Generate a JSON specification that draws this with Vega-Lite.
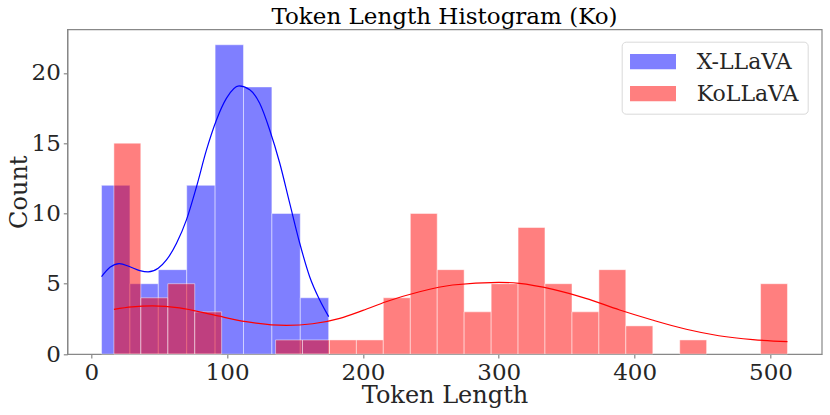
{
  "$schema": "https://vega.github.io/schema/vega-lite/v6.json",
  "width": 754.4,
  "height": 324.7,
  "autosize": {"type": "none"},
  "padding": {"left": 67.3, "top": 29.3, "right": 8.3, "bottom": 61},
  "background": "white",
  "title": {"text": "Token Length Histogram (Ko)", "font": "DejaVu Serif", "fontSize": 23, "fontWeight": "normal", "color": "#000000", "anchor": "middle", "offset": 0},
  "datasets": {
    "bars": [
      {"series": "X-LLaVA", "start": 7.6, "end": 28.5, "count": 12},
      {"series": "X-LLaVA", "start": 28.5, "end": 49.4, "count": 5},
      {"series": "X-LLaVA", "start": 49.4, "end": 70.3, "count": 6},
      {"series": "X-LLaVA", "start": 70.3, "end": 91.2, "count": 12},
      {"series": "X-LLaVA", "start": 91.2, "end": 112.1, "count": 22},
      {"series": "X-LLaVA", "start": 112.1, "end": 133.0, "count": 19},
      {"series": "X-LLaVA", "start": 133.0, "end": 153.9, "count": 10},
      {"series": "X-LLaVA", "start": 153.9, "end": 174.8, "count": 4},
      {"series": "KoLLaVA", "start": 16.7, "end": 36.5, "count": 15},
      {"series": "KoLLaVA", "start": 36.5, "end": 56.4, "count": 4},
      {"series": "KoLLaVA", "start": 56.4, "end": 76.2, "count": 5},
      {"series": "KoLLaVA", "start": 76.2, "end": 96.0, "count": 3},
      {"series": "KoLLaVA", "start": 135.7, "end": 155.5, "count": 1},
      {"series": "KoLLaVA", "start": 155.5, "end": 175.4, "count": 1},
      {"series": "KoLLaVA", "start": 175.4, "end": 195.2, "count": 1},
      {"series": "KoLLaVA", "start": 195.2, "end": 215.0, "count": 1},
      {"series": "KoLLaVA", "start": 215.0, "end": 234.9, "count": 4},
      {"series": "KoLLaVA", "start": 234.9, "end": 254.7, "count": 10},
      {"series": "KoLLaVA", "start": 254.7, "end": 274.5, "count": 6},
      {"series": "KoLLaVA", "start": 274.5, "end": 294.4, "count": 3},
      {"series": "KoLLaVA", "start": 294.4, "end": 314.2, "count": 5},
      {"series": "KoLLaVA", "start": 314.2, "end": 334.0, "count": 9},
      {"series": "KoLLaVA", "start": 334.0, "end": 353.9, "count": 5},
      {"series": "KoLLaVA", "start": 353.9, "end": 373.7, "count": 3},
      {"series": "KoLLaVA", "start": 373.7, "end": 393.5, "count": 6},
      {"series": "KoLLaVA", "start": 393.5, "end": 413.4, "count": 2},
      {"series": "KoLLaVA", "start": 433.2, "end": 453.0, "count": 1},
      {"series": "KoLLaVA", "start": 492.7, "end": 512.5, "count": 5}
    ],
    "kde": [
      {"series": "X-LLaVA", "x": 7.6, "y": 5.5},
      {"series": "X-LLaVA", "x": 13.8, "y": 6.17},
      {"series": "X-LLaVA", "x": 20.6, "y": 6.43},
      {"series": "X-LLaVA", "x": 28.5, "y": 6.21},
      {"series": "X-LLaVA", "x": 35.8, "y": 5.93},
      {"series": "X-LLaVA", "x": 41.9, "y": 5.84},
      {"series": "X-LLaVA", "x": 49.3, "y": 6.1},
      {"series": "X-LLaVA", "x": 55.4, "y": 6.69},
      {"series": "X-LLaVA", "x": 62.8, "y": 7.88},
      {"series": "X-LLaVA", "x": 70.1, "y": 9.54},
      {"series": "X-LLaVA", "x": 77.5, "y": 11.9},
      {"series": "X-LLaVA", "x": 84.8, "y": 14.5},
      {"series": "X-LLaVA", "x": 92.2, "y": 16.65},
      {"series": "X-LLaVA", "x": 99.6, "y": 18.2},
      {"series": "X-LLaVA", "x": 108.8, "y": 19.07},
      {"series": "X-LLaVA", "x": 116.7, "y": 18.8},
      {"series": "X-LLaVA", "x": 124.0, "y": 17.84},
      {"series": "X-LLaVA", "x": 131.4, "y": 15.94},
      {"series": "X-LLaVA", "x": 138.8, "y": 13.57},
      {"series": "X-LLaVA", "x": 146.1, "y": 10.73},
      {"series": "X-LLaVA", "x": 153.5, "y": 7.88},
      {"series": "X-LLaVA", "x": 160.8, "y": 5.5},
      {"series": "X-LLaVA", "x": 168.2, "y": 3.84},
      {"series": "X-LLaVA", "x": 174.8, "y": 2.66},
      {"series": "KoLLaVA", "x": 16.7, "y": 3.18},
      {"series": "KoLLaVA", "x": 30.0, "y": 3.35},
      {"series": "KoLLaVA", "x": 45.0, "y": 3.42},
      {"series": "KoLLaVA", "x": 65.0, "y": 3.28},
      {"series": "KoLLaVA", "x": 90.0, "y": 2.78},
      {"series": "KoLLaVA", "x": 114.0, "y": 2.3},
      {"series": "KoLLaVA", "x": 143.7, "y": 2.04},
      {"series": "KoLLaVA", "x": 163.0, "y": 2.15},
      {"series": "KoLLaVA", "x": 183.0, "y": 2.54},
      {"series": "KoLLaVA", "x": 200.0, "y": 3.1},
      {"series": "KoLLaVA", "x": 217.0, "y": 3.72},
      {"series": "KoLLaVA", "x": 241.7, "y": 4.43},
      {"series": "KoLLaVA", "x": 266.0, "y": 4.91},
      {"series": "KoLLaVA", "x": 300.0, "y": 5.1},
      {"series": "KoLLaVA", "x": 315.0, "y": 5.03},
      {"series": "KoLLaVA", "x": 340.0, "y": 4.6},
      {"series": "KoLLaVA", "x": 364.0, "y": 3.96},
      {"series": "KoLLaVA", "x": 389.0, "y": 3.13},
      {"series": "KoLLaVA", "x": 413.0, "y": 2.42},
      {"series": "KoLLaVA", "x": 438.0, "y": 1.76},
      {"series": "KoLLaVA", "x": 462.0, "y": 1.3},
      {"series": "KoLLaVA", "x": 487.0, "y": 1.02},
      {"series": "KoLLaVA", "x": 512.5, "y": 0.88}
    ]
  },
  "layer": [
    {
      "data": {"name": "bars"},
      "mark": {"type": "rect", "fillOpacity": 0.5, "stroke": "white", "strokeWidth": 0.8, "strokeOpacity": 0.6},
      "encoding": {
        "x": {"field": "start", "type": "quantitative", "scale": {"domain": [-17.6, 537.7], "nice": false, "zero": false},
              "axis": {"title": "Token Length", "values": [0, 100, 200, 300, 400, 500], "titleX": 377.2, "titleY": 48.8, "titleBaseline": "alphabetic", "titleAlign": "center"}},
        "x2": {"field": "end"},
        "y": {"field": "count", "type": "quantitative", "scale": {"domain": [0, 23.1], "nice": false},
              "axis": {"title": "Count", "values": [0, 5, 10, 15, 20], "titleX": -41.3, "titleY": 162.4, "titleBaseline": "alphabetic", "titleAlign": "center", "titleAngle": -90}},
        "y2": {"datum": 0},
        "color": {"field": "series", "type": "nominal", "sort": ["X-LLaVA", "KoLLaVA"],
                  "scale": {"domain": ["X-LLaVA", "KoLLaVA"], "range": ["#0000ff", "#ff0000"]},
                  "legend": {"title": null}}
      }
    },
    {
      "data": {"name": "kde"},
      "mark": {"type": "line", "strokeWidth": 1.2, "interpolate": "monotone"},
      "encoding": {
        "x": {"field": "x", "type": "quantitative"},
        "y": {"field": "y", "type": "quantitative"},
        "color": {"field": "series", "type": "nominal", "legend": null}
      }
    }
  ],
  "config": {
    "view": {"stroke": "#888888", "strokeWidth": 1.2},
    "axis": {"grid": false, "domainColor": "#888888", "domainWidth": 1.2, "tickColor": "#888888", "tickSize": 4, "tickWidth": 1.2,
             "labelFont": "DejaVu Serif", "labelFontSize": 23, "labelColor": "#262626", "labelPadding": 3,
             "titleFont": "DejaVu Serif", "titleFontSize": 24, "titleFontWeight": "normal", "titleColor": "#262626"},
    "legend": {"orient": "none", "legendX": 554.4, "legendY": 12.4, "labelFont": "DejaVu Serif", "labelFontSize": 22, "labelColor": "#262626",
               "symbolType": "M-3,-1H3V1H-3Z", "symbolSize": 235, "symbolOffset": 11.3, "symbolOpacity": 0.5, "symbolStrokeWidth": 0,
               "fillColor": "white", "strokeColor": "#d9d9d9", "cornerRadius": 4, "padding": 9, "rowPadding": 10, "labelOffset": 32.7}
  }
}
